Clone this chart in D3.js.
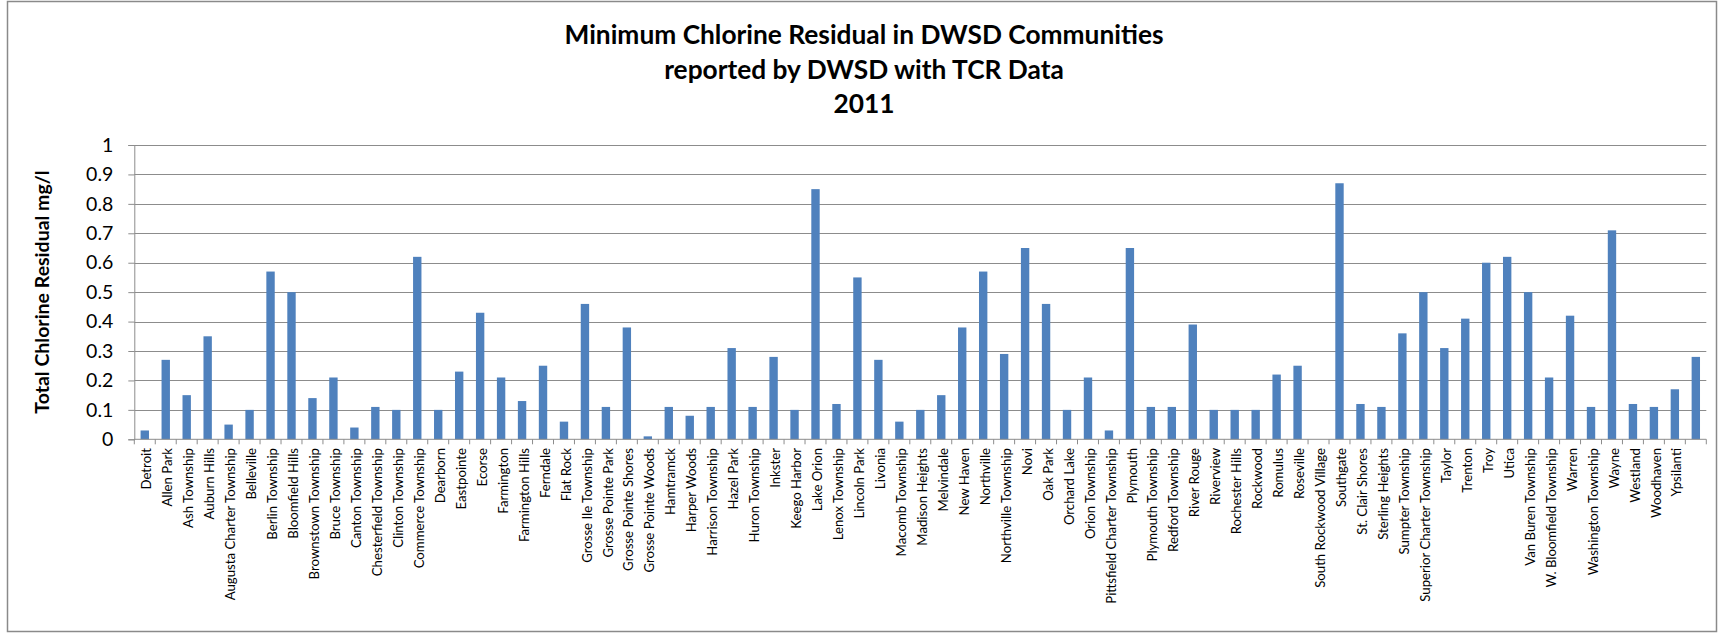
<!DOCTYPE html>
<html>
<head>
<meta charset="utf-8">
<script src="https://cdn.jsdelivr.net/npm/d3@7"></script>
<style>
  body { margin: 0; background: #fff; }
  text { font-family: Lato, "Open Sans", sans-serif; }
</style>
</head>
<body>
<script>
/*
Minimum chlorine residual per community, bar chart
*/

var communities = ["Detroit", "Allen Park", "Ash Township", "Auburn Hills", "Augusta Charter Township",
  "Belleville", "Berlin Township", "Bloomfield Hills", "Brownstown Township", "Bruce Township",
  "Canton Township", "Chesterfield Township", "Clinton Township", "Commerce Township", "Dearborn",
  "Eastpointe", "Ecorse", "Farmington", "Farmington Hills", "Ferndale", "Flat Rock",
  "Grosse Ile Township", "Grosse Pointe Park", "Grosse Pointe Shores", "Grosse Pointe Woods",
  "Hamtramck", "Harper Woods", "Harrison Township", "Hazel Park", "Huron Township", "Inkster",
  "Keego Harbor", "Lake Orion", "Lenox Township", "Lincoln Park", "Livonia", "Macomb Township",
  "Madison Heights", "Melvindale", "New Haven", "Northville", "Northville Township", "Novi",
  "Oak Park", "Orchard Lake", "Orion Township", "Pittsfield Charter Township", "Plymouth",
  "Plymouth Township", "Redford Township", "River Rouge", "Riverview", "Rochester Hills",
  "Rockwood", "Romulus", "Roseville", "South Rockwood Village", "Southgate", "St. Clair Shores",
  "Sterling Heights", "Sumpter Township", "Superior Charter Township", "Taylor", "Trenton",
  "Troy", "Utica", "Van Buren Township", "W. Bloomfield Township", "Warren",
  "Washington Township", "Wayne", "Westland", "Woodhaven", "Ypsilanti", ""];

var residual = [0.03, 0.27, 0.15, 0.35, 0.05, 0.10, 0.57, 0.50, 0.14, 0.21,
  0.04, 0.11, 0.10, 0.62, 0.10, 0.23, 0.43, 0.21, 0.13, 0.25, 0.06,
  0.46, 0.11, 0.38, 0.01, 0.11, 0.08, 0.11, 0.31, 0.11, 0.28,
  0.10, 0.85, 0.12, 0.55, 0.27, 0.06, 0.10, 0.15, 0.38, 0.57, 0.29, 0.65,
  0.46, 0.10, 0.21, 0.03, 0.65, 0.11, 0.11, 0.39, 0.10, 0.10,
  0.10, 0.22, 0.25, 0, 0.87, 0.12, 0.11, 0.36, 0.50, 0.31, 0.41,
  0.60, 0.62, 0.50, 0.21, 0.42, 0.11, 0.71, 0.12, 0.11, 0.17, 0.28];

var yTicks = [0, 0.1, 0.2, 0.3, 0.4, 0.5, 0.6, 0.7, 0.8, 0.9, 1];

var titleLines = ["Minimum Chlorine Residual in DWSD Communities",
  "reported by DWSD with TCR Data", "2011"];
var yTitle = "Total Chlorine Residual mg/l";

var data = communities.map(function(c, i) { return {name: c, value: residual[i]}; });

var width = 1718;
var height = 633;
var plot = {left: 134.3, right: 1706.3, top: 145, bottom: 439.3};

var svg = d3.select("body")
			.append("svg")
			.attr("width", width)
			.attr("height", height);

// chart area border
svg.append("rect")
	.attr("x", 7.5)
	.attr("y", 1.5)
	.attr("width", 1709)
	.attr("height", 630)
	.attr("fill", "#fff")
	.attr("stroke", "#8a8a8a")
	.attr("stroke-width", 1.5);

var xScale = d3.scaleBand()
				.domain(communities)
				.range([plot.left, plot.right])
				.paddingInner(0.6)
				.paddingOuter(0.3);

var yScale = d3.scaleLinear()
				.domain([0, 1])
				.range([plot.bottom, plot.top]);

// gridlines
svg.append("g")
	.selectAll("line")
	.data(yTicks.slice(1))
	.enter().append("line")
	.attr("x1", plot.left)
	.attr("x2", plot.right)
	.attr("y1", function(d) { return Math.round(yScale(d)) + 0.5; })
	.attr("y2", function(d) { return Math.round(yScale(d)) + 0.5; })
	.attr("stroke", "#8c8c8c")
	.attr("stroke-width", 1);

// bars
svg.append("g")
	.selectAll("rect")
	.data(data)
	.enter().append("rect")
	.attr("x", function(d) { return xScale(d.name); })
	.attr("width", xScale.bandwidth())
	.attr("y", function(d) { return yScale(d.value); })
	.attr("height", function(d) { return yScale(0) - yScale(d.value); })
	.attr("fill", "#4f81bd");

// y axis
var yAxis = svg.append("g")
				.attr("transform", "translate(" + plot.left + ",0)")
				.call(d3.axisLeft(yScale)
					.tickValues(yTicks)
					.tickFormat(d3.format("~g"))
					.tickSize(6)
					.tickPadding(15));
yAxis.selectAll("text")
	.style("font-size", "19.5px")
	.attr("fill", "#000");
yAxis.selectAll("line, path").attr("stroke", "#8c8c8c");

// x axis, ticks on band boundaries
var step = xScale.step();
var xAxis = svg.append("g");
xAxis.append("line")
	.attr("x1", plot.left)
	.attr("x2", plot.right)
	.attr("y1", plot.bottom)
	.attr("y2", plot.bottom)
	.attr("stroke", "#8c8c8c");
xAxis.selectAll(".tick")
	.data(d3.range(communities.length + 1))
	.enter().append("line")
	.attr("class", "tick")
	.attr("x1", function(k) { return plot.left + k * step; })
	.attr("x2", function(k) { return plot.left + k * step; })
	.attr("y1", plot.bottom)
	.attr("y2", plot.bottom + 5)
	.attr("stroke", "#8c8c8c");
xAxis.selectAll(".lbl")
	.data(communities)
	.enter().append("text")
	.attr("class", "lbl")
	.attr("text-anchor", "end")
	.attr("dy", "0.35em")
	.attr("transform", function(d) {
		return "translate(" + (xScale(d) + xScale.bandwidth() / 2 + 2) + "," + 448 + ")rotate(-90)";
	})
	.style("font-size", "13.2px")
	.text(function(d) { return d; });

// y title
svg.append("text")
	.attr("text-anchor", "middle")
	.attr("transform", "translate(49,292)rotate(-90)")
	.style("font-size", "19.5px")
	.style("font-weight", "bold")
	.text(yTitle);

// chart title
svg.append("g")
	.selectAll("text")
	.data(titleLines)
	.enter().append("text")
	.attr("x", 864)
	.attr("y", function(d, i) { return 44 + i * 34.5; })
	.attr("text-anchor", "middle")
	.style("font-size", "26.3px")
	.style("font-weight", "bold")
	.text(function(d) { return d; });
</script>
</body>
</html>
